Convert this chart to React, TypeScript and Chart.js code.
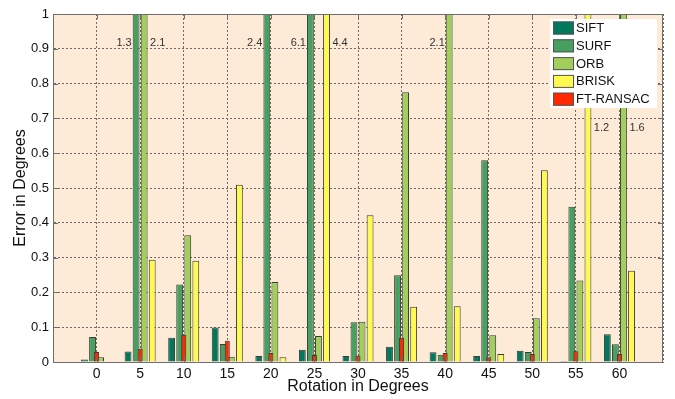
import React, { useEffect, useRef } from "react";
import { Chart, registerables } from "chart.js";

Chart.register(...registerables);

const categories = [0, 5, 10, 15, 20, 25, 30, 35, 40, 45, 50, 55, 60];
const sift = [0.007, 0.03, 0.07, 0.099, 0.017, 0.035, 0.017, 0.044, 0.028, 0.017, 0.032, 0.003, 0.08];
const surf = [0.072, 1.3, 0.223, 0.052, 2.4, 6.1, 0.114, 0.249, 0.021, 0.58, 0.029, 0.446, 0.051];
const orb = [0.014, 2.1, 0.364, 0.015, 0.23, 0.075, 0.116, 0.775, 2.1, 0.077, 0.126, 0.234, 1.6];
const brisk = [0, 0.294, 0.291, 0.509, 0.014, 4.4, 0.422, 0.159, 0.16, 0.023, 0.551, 1.2, 0.262];
const ftRansac = [0.029, 0.038, 0.078, 0.061, 0.026, 0.02, 0.018, 0.07, 0.026, 0.014, 0.023, 0.031, 0.023];

const seriesNames = ["SIFT", "SURF", "ORB", "BRISK", "FT-RANSAC"];
const seriesColors = ["rgb(0,120,92)", "rgb(72,160,96)", "rgb(162,206,92)", "rgb(255,250,82)", "rgb(255,40,0)"];
const yTicks = [0, 0.1, 0.2, 0.3, 0.4, 0.5, 0.6, 0.7, 0.8, 0.9, 1];

// labels for clipped bars: series index, category index, side, height (data units)
const clippedLabels = [
  { s: 1, i: 1, side: "left", at: 0.917 },
  { s: 2, i: 1, side: "right", at: 0.917 },
  { s: 1, i: 4, side: "left", at: 0.917 },
  { s: 1, i: 5, side: "left", at: 0.917 },
  { s: 3, i: 5, side: "right", at: 0.917 },
  { s: 2, i: 8, side: "left", at: 0.917 },
  { s: 3, i: 11, side: "right", at: 0.672 },
  { s: 2, i: 12, side: "right", at: 0.672 },
];

const allSeries = [sift, surf, orb, brisk, ftRansac];
const FONT = "'Liberation Sans', Arial, sans-serif";

export default function App() {
  const ref = useRef<HTMLCanvasElement>(null);
  useEffect(() => {
    if (!ref.current) return;
    const labels = ["-5", ...categories.map(String), "65"];
    const pad = (a: number[]) => [null, ...a, null];

    const datasets: any[] = allSeries.map((arr, k) => {
      const isFt = k === 4;
      return {
        label: seriesNames[k],
        data: pad(arr),
        backgroundColor: seriesColors[k],
        borderColor: "#3a3a3a",
        borderWidth: 1,
        borderSkipped: "start",
        grouped: !isFt,
        order: isFt ? -1 : 0,
        categoryPercentage: isFt ? 1 : 0.74,
        barPercentage: isFt ? 0.115 : 0.85,
      };
    });

    const bgPlugin = {
      id: "bg",
      beforeDraw(chart: any) {
        const { ctx, chartArea: a } = chart;
        ctx.save();
        ctx.fillStyle = "rgb(253,235,216)";
        ctx.fillRect(a.left, a.top, a.right - a.left, a.bottom - a.top);
        ctx.restore();
      },
      afterDraw(chart: any) {
        const { ctx, chartArea: a, scales } = chart;
        ctx.save();
        // box
        ctx.strokeStyle = "#6e6e6e";
        ctx.lineWidth = 1;
        ctx.strokeRect(a.left + 0.5, a.top + 0.5, a.right - a.left - 1, a.bottom - a.top);
        // inward tick marks
        ctx.beginPath();
        yTicks.forEach((v) => {
          const y = Math.round(scales.y.getPixelForValue(v)) + 0.5;
          ctx.moveTo(a.left, y);
          ctx.lineTo(a.left + 5, y);
          ctx.moveTo(a.right, y);
          ctx.lineTo(a.right - 5, y);
        });
        categories.forEach((c) => {
          const x = Math.round(scales.x.getPixelForValue(String(c))) + 0.5;
          ctx.moveTo(x, a.bottom);
          ctx.lineTo(x, a.bottom - 5);
          ctx.moveTo(x, a.top);
          ctx.lineTo(x, a.top + 5);
        });
        ctx.stroke();
        // clipped labels
        ctx.font = `11px ${FONT}`;
        ctx.fillStyle = "#333";
        ctx.textBaseline = "middle";
        clippedLabels.forEach((c) => {
          const el: any = chart.getDatasetMeta(c.s).data[c.i + 1];
          if (!el) return;
          const y = scales.y.getPixelForValue(c.at);
          const text = allSeries[c.s][c.i].toFixed(1);
          if (c.side === "left") {
            ctx.textAlign = "right";
            ctx.fillText(text, el.x - el.width / 2 - 1, y);
          } else {
            ctx.textAlign = "left";
            ctx.fillText(text, el.x + el.width / 2 + 2.5, y);
          }
        });
        // legend
        const bw = 107, bh = 89;
        const bx = a.right - bw - 6, by = a.top + 5;
        ctx.fillStyle = "#fff";
        ctx.fillRect(bx, by, bw, bh);
        ctx.font = `13px ${FONT}`;
        ctx.textAlign = "left";
        seriesNames.forEach((n, k) => {
          const cy = by + 9 + k * 17.8;
          ctx.fillStyle = seriesColors[k];
          ctx.fillRect(bx + 3, cy - 6.5, 21, 13);
          ctx.strokeStyle = "#555";
          ctx.strokeRect(bx + 3.5, cy - 6, 20, 12);
          ctx.fillStyle = "#111";
          ctx.fillText(n, bx + 26, cy + 0.5);
        });
        ctx.restore();
      },
    };

    const chart = new Chart(ref.current, {
      type: "bar",
      data: { labels, datasets },
      options: {
        animation: false,
        responsive: true,
        maintainAspectRatio: false,
        layout: { padding: { left: 0, top: 14, right: 12, bottom: 0 } },
        plugins: { legend: { display: false }, tooltip: { enabled: false } },
        scales: {
          x: {
            type: "category",
            offset: false,
            grid: { offset: false, color: "#6a6a6a", drawTicks: false, lineWidth: 1 },
            border: { display: true, color: "#6e6e6e", dash: [2, 2] },
            ticks: {
              autoSkip: false,
              maxRotation: 0,
              padding: 4,
              color: "#111",
              font: { size: 14, family: FONT },
              callback: (_v: any, i: number) => (i === 0 || i === labels.length - 1 ? "" : labels[i]),
            },
            title: {
              display: true,
              text: "Rotation in Degrees",
              color: "#111",
              font: { size: 16, family: FONT },
              padding: { top: 0, bottom: 3 },
            },
            afterFit: (s: any) => {
              s.height = 37;
            },
          },
          y: {
            min: 0,
            max: 1,
            afterBuildTicks: (s: any) => {
              s.ticks = yTicks.map((v) => ({ value: v }));
            },
            grid: { color: "#6a6a6a", drawTicks: false, lineWidth: 1 },
            border: { display: true, color: "#6e6e6e", dash: [2, 2] },
            ticks: {
              padding: 4,
              color: "#111",
              font: { size: 13, family: FONT },
              callback: (v: any) => String(Number(Number(v).toFixed(1))),
            },
            title: {
              display: true,
              text: "Error in Degrees",
              color: "#111",
              font: { size: 16, family: FONT },
              padding: { top: 11, bottom: 0 },
            },
            afterFit: (s: any) => {
              s.width = 53;
            },
          },
        },
      },
      plugins: [bgPlugin],
    } as any);
    return () => chart.destroy();
  }, []);

  return (
    <div style={{ position: "absolute", left: 0, top: 0, width: 675, height: 399, background: "#fff" }}>
      <canvas ref={ref} />
    </div>
  );
}
